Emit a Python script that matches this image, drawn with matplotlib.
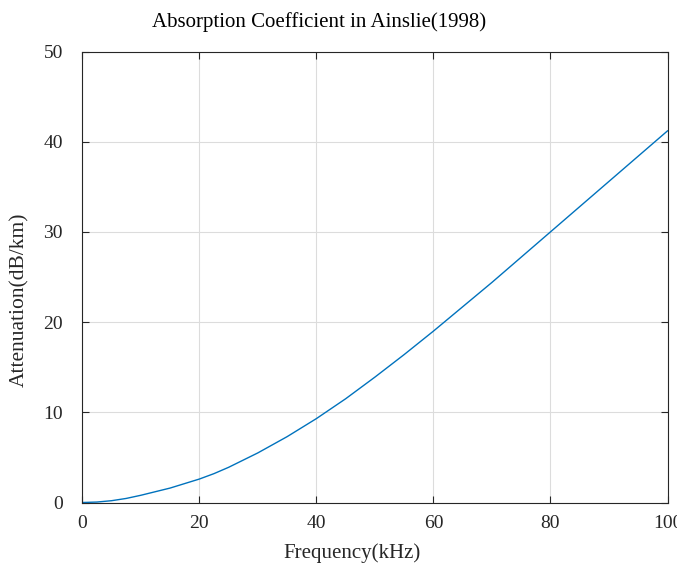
import matplotlib
matplotlib.use("Agg")
import matplotlib.pyplot as plt

# Attenuation curve (dB/km) against frequency (kHz)
freq_khz = [0, 2.5, 5, 7.5, 10, 12.5, 15, 17.5, 20, 22.5, 25, 27.5, 30,
            35, 40, 45, 50, 55, 60, 65, 70, 75, 80, 85, 90, 95, 100]
atten_db_km = [0.0, 0.05, 0.2, 0.45, 0.8, 1.2, 1.6, 2.1, 2.6, 3.2, 3.9, 4.7, 5.5,
               7.3, 9.3, 11.5, 13.9, 16.4, 19.0, 21.7, 24.4, 27.2, 30.0,
               32.8, 35.6, 38.4, 41.2]

x_ticks = [0, 20, 40, 60, 80, 100]
y_ticks = [0, 10, 20, 30, 40, 50]

plt.rcParams["font.family"] = ["Liberation Serif", "DejaVu Serif"]

W, H = 677, 565
fig = plt.figure(figsize=(W / 100, H / 100), dpi=100)
ax = fig.add_axes([82.3 / W, 1 - 502.5 / H, 585.2 / W, 451.0 / H])

ax.plot(freq_khz, atten_db_km, color="#0072BD", linewidth=1.0)

ax.set_xlim(0, 100)
ax.set_ylim(0, 50)
ax.set_xticks(x_ticks)
ax.set_yticks(y_ticks)
ax.grid(True, color="#dcdcdc", linewidth=0.8)
ax.set_axisbelow(True)

for s in ax.spines.values():
    s.set_color("#262626")
    s.set_linewidth(0.8)

ax.tick_params(direction="in", top=True, right=True, length=5,
               width=0.8, color="#262626", labelsize=14, labelcolor="#262626")
ax.tick_params(axis="x", pad=9)
ax.tick_params(axis="y", pad=14)
for t in ax.yaxis.get_major_ticks():
    t.label1.set_va("center_baseline")

fig.text(319 / W, 1 - 22 / H, "Absorption Coefficient in Ainslie(1998)",
         fontsize=15, ha="center", va="center", color="#000000")
fig.text(352 / W, 1 - 553 / H, "Frequency(kHz)",
         fontsize=15, ha="center", va="center", color="#262626")
fig.text(20 / W, 1 - 300 / H, "Attenuation(dB/km)", rotation=90,
         fontsize=15.5, ha="center", va="center", color="#262626")

fig.savefig("out.png", dpi=100)
